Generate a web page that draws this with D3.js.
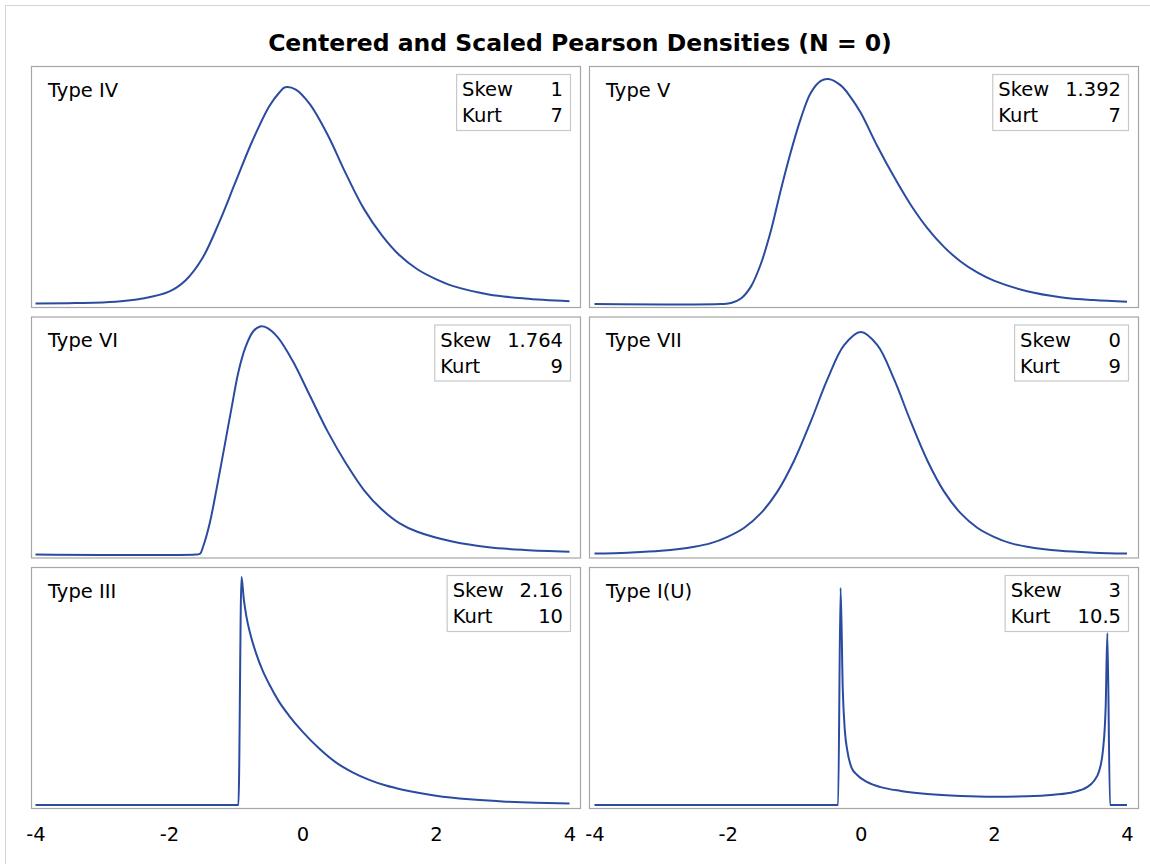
<!DOCTYPE html>
<html>
<head>
<meta charset="utf-8">
<script src="https://cdn.jsdelivr.net/npm/d3@7"></script>
<style>
  body { margin: 0; background: #fff; }
  svg text { font-family: "DejaVu Sans", sans-serif; fill: #000; }
</style>
</head>
<body>
<div id="chartArea"></div>
<script>

var chartTitle = "Centered and Scaled Pearson Densities (N = 0)";
var typeNames = ["Type IV", "Type V", "Type VI", "Type VII", "Type III", "Type I(U)"];
var skewValues = ["1", "1.392", "1.764", "0", "2.16", "3"];
var kurtValues = ["7", "7", "9", "9", "10", "10.5"];
var xTicks = [-4, -2, 0, 2, 4];

// density curves: [x, density]
var typeIV = [[-4, 0.001], [-3.4, 0.002], [-2.8, 0.005], [-2.4, 0.012], [-2.0, 0.027], [-1.75, 0.052],
    [-1.5, 0.10], [-1.25, 0.178], [-1.0, 0.268], [-0.75, 0.357], [-0.5, 0.432], [-0.35, 0.462],
    [-0.26, 0.474], [-0.1, 0.469], [0.11, 0.437], [0.38, 0.369], [0.65, 0.285], [0.92, 0.208],
    [1.19, 0.150], [1.45, 0.107], [1.72, 0.076], [1.99, 0.055], [2.26, 0.039], [2.79, 0.021],
    [3.33, 0.012], [4, 0.006]];
var typeV = [[-4, 0], [-2.1, 0], [-1.95, 0.002], [-1.8, 0.012], [-1.65, 0.038], [-1.5, 0.088],
    [-1.35, 0.16], [-1.2, 0.25], [-1.05, 0.333], [-0.9, 0.406], [-0.75, 0.462], [-0.6, 0.488],
    [-0.485, 0.492], [-0.3, 0.478], [-0.15, 0.452], [0, 0.418], [0.25, 0.345], [0.5, 0.278],
    [0.75, 0.217], [1, 0.166], [1.25, 0.125], [1.5, 0.093], [1.75, 0.069], [2, 0.051],
    [2.5, 0.028], [3, 0.015], [3.5, 0.0085], [4, 0.0048]];
var typeVI = [[-4, 0], [-1.6, 0], [-1.535, 0.0015], [-1.49, 0.017], [-1.39, 0.069], [-1.28, 0.150],
    [-1.17, 0.237], [-1.06, 0.325], [-0.96, 0.402], [-0.85, 0.458], [-0.74, 0.491], [-0.635, 0.502],
    [-0.53, 0.499], [-0.37, 0.478], [-0.15, 0.427], [0.11, 0.350], [0.38, 0.270], [0.65, 0.201],
    [0.92, 0.142], [1.19, 0.099], [1.45, 0.069], [1.72, 0.050], [2.26, 0.028], [2.79, 0.016],
    [3.33, 0.010], [4, 0.006]];
var typeVII = [[-4, 0.002], [-3.5, 0.004], [-3, 0.008], [-2.5, 0.017], [-2.25, 0.025], [-2, 0.039],
    [-1.75, 0.059], [-1.5, 0.091], [-1.25, 0.139], [-1, 0.207], [-0.75, 0.293], [-0.5, 0.386],
    [-0.25, 0.461], [0, 0.490], [0.25, 0.461], [0.5, 0.386], [0.75, 0.293], [1, 0.207],
    [1.25, 0.139], [1.5, 0.091], [1.75, 0.059], [2, 0.039], [2.25, 0.025], [2.5, 0.017],
    [3, 0.008], [3.5, 0.004], [4, 0.002]];
var typeIII = [[-4, 0], [-0.96, 0], [-0.914, 1.15], [-0.88, 1.04], [-0.84, 0.95], [-0.78, 0.86],
    [-0.7, 0.77], [-0.6, 0.68], [-0.5, 0.61], [-0.35, 0.52], [-0.2, 0.45], [0, 0.37],
    [0.25, 0.285], [0.5, 0.215], [0.75, 0.165], [1, 0.127], [1.25, 0.098], [1.5, 0.077],
    [2, 0.047], [2.5, 0.029], [3, 0.018], [3.5, 0.011], [4, 0.007]];
var typeIU = [[-4, 0], [-0.34, 0], [-0.303, 1.095], [-0.27, 0.58], [-0.24, 0.38], [-0.2, 0.27],
    [-0.14, 0.19], [-0.05, 0.15], [0.1, 0.115], [0.3, 0.09], [0.6, 0.071], [1.0, 0.056],
    [1.5, 0.046], [2.0, 0.042], [2.5, 0.044], [2.9, 0.052], [3.2, 0.066], [3.4, 0.09],
    [3.5, 0.12], [3.58, 0.17], [3.64, 0.28], [3.68, 0.5], [3.705, 0.867], [3.745, 0], [4, 0]];

var curves = [typeIV, typeV, typeVI, typeVII, typeIII, typeIU];
// the two spiky curves keep a monotone interpolation so they never dip under zero
var spiky = [false, false, false, false, true, true];

// layout of the 3x2 lattice
var panelLeft = [31, 589], panelW = 549;
var panelTop = [66, 316.5, 567], panelH = 241;
var plotTopPad = [13, 10, 10];
var xRange = [[35.5, 569.5], [594.5, 1127]];
var lineColor = "#2a4ba0";

var svg = d3.select('#chartArea').append("svg")
        .attr("width", 1150).attr("height", 864);

svg.append("rect").attr("width", 1150).attr("height", 864).style("fill", "#fff");

// outer frame (only left and top edges show)
svg.append("rect")
    .attr("x", 5.5).attr("y", 5.5).attr("width", 1200).attr("height", 900)
    .style("fill", "none").style("stroke", "#d4d4d4").style("stroke-width", 1);

svg.append("text")
    .attr("x", 580).attr("y", 51)
    .style("text-anchor", "middle")
    .style("font-weight", "bold")
    .style("font-size", "23.5px")
    .text(chartTitle);

var xScales = xRange.map(function (r) { return d3.scaleLinear().domain([-4, 4]).range(r); });

var yScales = panelTop.map(function (top, r) {
    var rowMax = d3.max(curves[2 * r].concat(curves[2 * r + 1]), function (d) { return d[1]; });
    return d3.scaleLinear().domain([0, rowMax]).range([top + panelH - 3, top + plotTopPad[r]]);
});

var defs = svg.append("defs");

curves.forEach(function (data, i) {
    var col = i % 2, row = Math.floor(i / 2);
    var x = xScales[col], y = yScales[row];
    var left = panelLeft[col], top = panelTop[row];

    defs.append("clipPath").attr("id", "clip" + i)
        .append("rect").attr("x", left).attr("y", top).attr("width", panelW).attr("height", panelH);

    var g = svg.append("g").attr("class", "panel");

    g.append("rect")
        .attr("x", left + 0.5).attr("y", top + 0.5)
        .attr("width", panelW).attr("height", panelH)
        .style("fill", "#fff").style("stroke", "#a6a6a6").style("stroke-width", 1.2);

    var line = d3.line()
        .curve(spiky[i] ? d3.curveMonotoneX : d3.curveCatmullRom.alpha(0.5))
        .x(function (d) { return x(d[0]); })
        .y(function (d) { return y(d[1]); });

    g.append("path")
        .datum(data)
        .attr("clip-path", "url(#clip" + i + ")")
        .attr("d", line)
        .style("fill", "none")
        .style("stroke", lineColor)
        .style("stroke-width", 2)
        .style("stroke-linejoin", "round");

    g.append("text")
        .attr("x", left + 17).attr("y", top + 30.5)
        .style("font-size", "19.5px")
        .text(typeNames[i]);

    // inset table with skewness and kurtosis
    var inset = g.append("g");
    var labels = ["Skew", "Kurt"], vals = [skewValues[i], kurtValues[i]];
    var labelText = inset.selectAll(".lab").data(labels).enter().append("text")
        .attr("class", "lab").style("font-size", "19.5px")
        .text(function (d) { return d; });
    var valText = inset.selectAll(".val").data(vals).enter().append("text")
        .attr("class", "val").style("font-size", "19.5px").style("text-anchor", "end")
        .text(function (d) { return d; });

    var labW = d3.max(labelText.nodes(), function (n) { return n.getComputedTextLength(); });
    var valW = Math.max(34, d3.max(valText.nodes(), function (n) { return n.getComputedTextLength(); }));
    var boxW = 6 + labW + 16 + valW + 7;
    var boxRight = left + panelW - 10, boxTop = top + 8;

    inset.insert("rect", "text")
        .attr("x", boxRight - boxW + 0.5).attr("y", boxTop + 0.5)
        .attr("width", boxW).attr("height", 56)
        .style("fill", "#fff").style("stroke", "#c8c8c8").style("stroke-width", 1.2);

    labelText.attr("x", boxRight - boxW + 6)
        .attr("y", function (d, k) { return boxTop + 22 + k * 26; });
    valText.attr("x", boxRight - 7)
        .attr("y", function (d, k) { return boxTop + 22 + k * 26; });
});

// x axes under the bottom row
xScales.forEach(function (x) {
    var ax = svg.append("g")
        .attr("transform", "translate(0," + (panelTop[2] + panelH) + ")")
        .call(d3.axisBottom(x).tickValues(xTicks).tickSize(0).tickPadding(19)
            .tickFormat(function (d) { return "" + d; }));
    ax.select(".domain").remove();
    ax.selectAll("text")
        .style("font-family", "'DejaVu Sans', sans-serif")
        .style("font-size", "19.5px")
        .style("fill", "#000");
});

</script>
</body>
</html>
